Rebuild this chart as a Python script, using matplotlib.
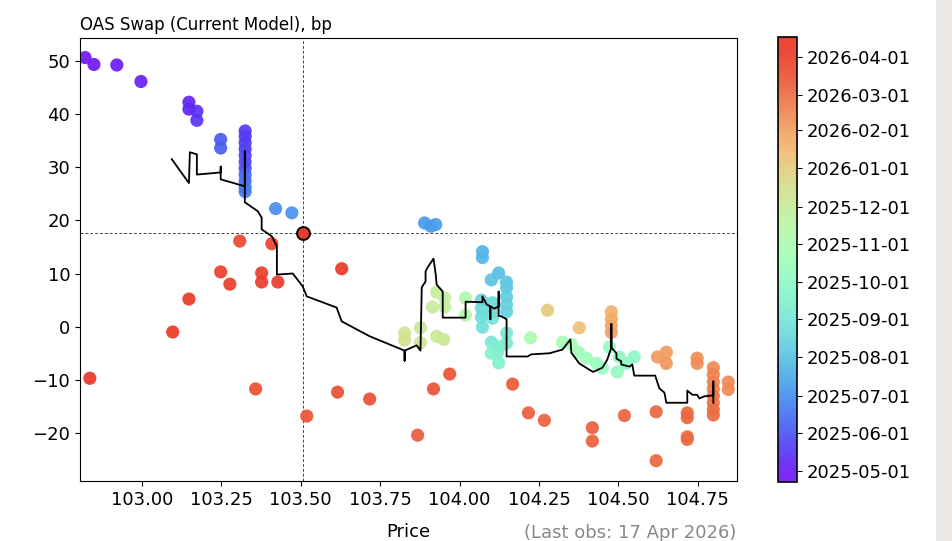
#!/usr/bin/env python3

import numpy as np
import matplotlib
matplotlib.use("Agg")
import matplotlib.pyplot as plt
import matplotlib.dates as mdates
from matplotlib.colors import ListedColormap
from matplotlib.patches import Rectangle

# observed points: price, OAS (bp), observation date
obs_price = [102.821, 102.849, 102.921, 102.997, 103.148, 103.148, 103.173, 103.173,
             103.325, 103.325, 103.325, 103.325, 103.325, 103.325, 103.325, 103.325,
             103.325, 103.325, 103.325,
             103.248, 103.248, 103.421, 103.472, 103.890, 103.910, 103.925,
             104.072, 104.072, 104.123, 104.100, 104.148, 104.148, 104.148, 104.148,
             104.148, 104.069, 104.069, 104.069, 104.072, 104.104, 104.104, 104.104,
             104.100, 104.120, 104.123, 104.148, 104.148, 104.126, 104.100,
             104.019, 104.019, 104.223,
             103.827, 103.827, 103.877, 103.877, 103.928, 103.915, 103.953, 103.953,
             103.928, 103.950,
             104.324, 104.352, 104.374, 104.399, 104.431, 104.450, 104.472, 104.497,
             104.503, 104.525, 104.550,
             104.277, 104.377, 104.478, 104.478, 104.478, 104.478,
             104.623, 104.651, 104.651, 104.748, 104.748,
             104.799, 104.799, 104.799, 104.799, 104.799, 104.799, 104.799, 104.799,
             104.846, 104.846,
             103.308, 103.409, 103.248, 103.277, 103.377, 103.377, 103.428, 103.148,
             103.097, 102.836, 103.358, 103.519, 103.629, 103.969, 103.918, 103.616,
             103.717, 103.868, 104.167, 104.217, 104.267, 104.418, 104.418, 104.519,
             104.619, 104.619, 104.717, 104.717, 104.717, 104.717]
obs_oas = [50.6, 49.3, 49.2, 46.1, 42.2, 40.9, 40.5, 38.8,
           36.8, 35.8, 34.6, 33.4, 32.2, 31.0, 29.8, 28.6,
           27.4, 26.2, 25.4,
           35.2, 33.6, 22.2, 21.4, 19.5, 18.9, 19.2,
           14.1, 13.0, 10.1, 8.8, 8.4, 7.3, 5.6, 4.1,
           2.8, 5.0, 3.5, 1.8, -0.1, 4.5, 2.8, 1.6,
           -2.9, -4.8, -6.8, -1.2, -3.1, -3.8, -5.0,
           5.4, 2.2, -2.1,
           -1.2, -2.5, -0.2, -3.0, 6.5, 3.7, 5.4, 3.7,
           -1.8, -2.4,
           -2.9, -3.3, -4.8, -5.9, -6.9, -7.8, -3.8, -8.5,
           -5.7, -6.9, -5.7,
           3.1, -0.2, 2.8, 1.5, 0.2, -1.1,
           -5.7, -4.8, -6.9, -5.9, -6.9,
           -7.7, -9.0, -10.4, -11.7, -13.0, -14.3, -15.6, -16.6,
           -10.4, -11.8,
           16.1, 15.6, 10.3, 8.0, 10.1, 8.4, 8.4, 5.2,
           -1.0, -9.7, -11.7, -16.8, 10.9, -8.9, -11.7, -12.3,
           -13.6, -20.4, -10.8, -16.2, -17.6, -19.0, -21.5, -16.7,
           -16.0, -25.2, -16.2, -17.1, -20.7, -21.2]
obs_date = ["2025-04-22", "2025-04-25", "2025-04-29", "2025-05-02", "2025-05-07", "2025-05-08",
            "2025-05-12", "2025-05-14",
            "2025-05-16", "2025-05-19", "2025-05-20", "2025-05-22", "2025-05-23", "2025-05-26",
            "2025-05-28", "2025-06-10", "2025-06-14", "2025-06-18", "2025-06-20",
            "2025-06-02", "2025-06-05", "2025-07-01", "2025-07-03", "2025-07-06", "2025-07-08",
            "2025-07-09",
            "2025-07-22", "2025-07-25", "2025-07-30", "2025-08-02", "2025-08-04", "2025-08-06",
            "2025-08-11", "2025-08-13", "2025-08-15", "2025-08-18", "2025-08-20", "2025-08-22",
            "2025-08-26", "2025-08-19", "2025-08-21", "2025-08-27",
            "2025-09-05", "2025-09-10", "2025-09-15", "2025-09-02", "2025-09-08", "2025-09-12",
            "2025-09-18",
            "2025-11-05", "2025-11-10", "2025-11-03",
            "2025-12-10", "2025-12-14", "2025-12-05", "2025-12-08", "2025-11-28", "2025-12-01",
            "2025-11-25", "2025-11-26", "2025-12-03", "2025-12-04",
            "2025-10-28", "2025-10-25", "2025-10-20", "2025-10-18", "2025-10-15", "2025-10-12",
            "2025-10-08", "2025-10-05", "2025-10-03", "2025-10-01", "2025-09-28",
            "2026-01-02", "2026-01-10", "2026-01-20", "2026-01-25", "2026-01-28", "2026-02-01",
            "2026-02-05", "2026-02-03", "2026-02-07", "2026-02-10", "2026-02-12",
            "2026-02-14", "2026-02-17", "2026-02-19", "2026-02-21", "2026-02-24", "2026-02-26",
            "2026-03-01", "2026-03-03",
            "2026-02-13", "2026-02-15",
            "2026-03-25", "2026-03-27", "2026-03-30", "2026-03-31", "2026-04-01", "2026-04-02",
            "2026-04-03", "2026-04-06", "2026-04-08", "2026-04-10", "2026-03-20", "2026-03-18",
            "2026-04-07", "2026-03-16", "2026-03-17", "2026-03-19", "2026-03-19", "2026-03-12",
            "2026-03-13", "2026-03-11", "2026-03-10", "2026-03-09", "2026-03-09", "2026-03-08",
            "2026-03-06", "2026-03-06", "2026-03-05", "2026-03-05", "2026-03-04", "2026-03-04"]

# current model curve
model_price = [103.094, 103.148, 103.151, 103.173, 103.173, 103.248, 103.248, 103.248,
               103.324, 103.324, 103.324, 103.365, 103.377, 103.377, 103.409, 103.425,
               103.425, 103.475, 103.506, 103.519, 103.613, 103.629, 103.717, 103.827,
               103.827, 103.827, 103.865, 103.877, 103.881, 103.893, 103.893, 103.899,
               103.918, 103.925, 103.928, 103.947, 103.947, 104.019, 104.019, 104.072,
               104.072, 104.085, 104.097, 104.097, 104.097, 104.110, 104.123, 104.123,
               104.123, 104.129, 104.148, 104.148, 104.214, 104.226, 104.283, 104.324,
               104.349, 104.352, 104.377, 104.409, 104.421, 104.450, 104.465, 104.478,
               104.478, 104.478, 104.494, 104.494, 104.509, 104.509, 104.535, 104.544,
               104.550, 104.616, 104.629, 104.645, 104.651, 104.717, 104.717, 104.733,
               104.748, 104.755, 104.770, 104.799, 104.799, 104.799]
model_oas = [31.5, 27.0, 32.8, 32.4, 28.6, 29.0, 30.1, 27.7,
             26.4, 33.0, 23.4, 21.7, 20.5, 18.3, 17.0, 15.1,
             9.8, 10.0, 7.6, 5.7, 3.6, 1.0, -1.8, -4.5,
             -6.4, -4.5, -3.5, -4.5, 7.4, 8.5, 10.4, 11.1,
             12.8, 9.8, 7.9, 6.6, 1.7, 1.7, 4.7, 4.6,
             5.7, 4.2, 3.8, 1.4, 3.8, 3.4, 3.8, 6.6,
             2.0, 2.0, 1.4, -5.6, -5.6, -5.2, -5.0, -4.3,
             -2.4, -4.9, -6.9, -8.1, -8.5, -7.7, -6.2, -3.9,
             0.5, -3.9, -5.0, -6.0, -6.5, -7.1, -7.5, -7.1,
             -9.2, -9.2, -11.6, -12.4, -14.3, -14.3, -12.0, -12.8,
             -12.8, -13.5, -13.1, -12.9, -10.3, -14.3]

last_price = 103.506
last_oas = 17.6
first_date = "2025-04-22"
last_date = "2026-04-17"
cbar_ticks = ["2025-05-01", "2025-06-01", "2025-07-01", "2025-08-01", "2025-09-01",
              "2025-10-01", "2025-11-01", "2025-12-01", "2026-01-01", "2026-02-01",
              "2026-03-01", "2026-04-01"]


def muted_rainbow():
    # rainbow as it looks in the screenshot (sRGB values seen through a P3 profile)
    rgb = plt.get_cmap("rainbow")(np.linspace(0, 1, 256))[:, :3]
    lin = np.where(rgb <= 0.04045, rgb / 12.92, ((rgb + 0.055) / 1.055) ** 2.4)
    m = np.array([[0.8225, 0.1774, 0.0000],
                  [0.0332, 0.9669, 0.0000],
                  [0.0171, 0.0724, 0.9108]])
    lin = np.clip(lin @ m.T, 0, 1)
    out = np.where(lin <= 0.0031308, lin * 12.92, 1.055 * lin ** (1 / 2.4) - 0.055)
    return ListedColormap(np.clip(out, 0, 1))


def main():
    fig = plt.figure(figsize=(9.52, 5.41), dpi=100)
    ax = fig.add_axes([0.084, 0.111, 0.690, 0.819])
    cax = fig.add_axes([0.817, 0.109, 0.020, 0.822])

    # grey strip at the right edge of the screenshot
    fig.patches.append(Rectangle((0.983, 0), 0.017, 1, transform=fig.transFigure,
                                 facecolor="#ece8e6", edgecolor="none", zorder=-1))

    cmap = muted_rainbow()
    dnum = mdates.date2num(np.array(obs_date, dtype="datetime64[D]"))
    vmin = mdates.date2num(np.datetime64(first_date))
    vmax = mdates.date2num(np.datetime64(last_date))

    sc = ax.scatter(obs_price, obs_oas, c=dnum, cmap=cmap, vmin=vmin, vmax=vmax,
                    s=90, alpha=0.92, edgecolors="none", zorder=2)
    ax.plot(model_price, model_oas, color="black", lw=1.3, zorder=3)

    ax.axvline(last_price, color="#444444", lw=0.7, ls=(0, (3, 2)), zorder=1)
    ax.axhline(last_oas, color="#444444", lw=0.7, ls=(0, (3, 2)), zorder=1)
    ax.scatter([last_price], [last_oas], c=[vmax], cmap=cmap, vmin=vmin, vmax=vmax,
               s=85, alpha=0.95, edgecolors="black", linewidths=1.5, zorder=4)

    ax.set_xlim(102.805, 104.873)
    ax.set_ylim(-29.0, 54.3)
    ax.set_xticks([103.0, 103.25, 103.5, 103.75, 104.0, 104.25, 104.5, 104.75])
    ax.set_yticks([-20, -10, 0, 10, 20, 30, 40, 50])
    ax.tick_params(labelsize=13)
    ax.set_title("OAS Swap (Current Model), bp", loc="left", fontsize=12)
    ax.set_xlabel("Price", fontsize=13, labelpad=10)
    ax.text(1.0, -0.117, "(Last obs: 17 Apr 2026)", transform=ax.transAxes,
            ha="right", va="center", fontsize=13, color="#888888")

    cb = fig.colorbar(sc, cax=cax)
    cb.set_ticks(mdates.date2num(np.array(cbar_ticks, dtype="datetime64[D]")))
    cb.set_ticklabels(cbar_ticks)
    cb.ax.tick_params(labelsize=13)
    cb.outline.set_linewidth(1.2)

    fig.savefig("out.png", dpi=100)


if __name__ == "__main__":
    main()
